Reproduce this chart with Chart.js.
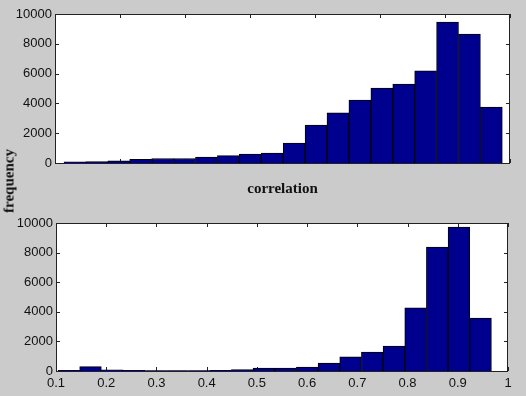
<!DOCTYPE html>
<html>
<head>
<meta charset="utf-8">
<script src="https://cdn.jsdelivr.net/npm/chart.js@4.4.1/dist/chart.umd.min.js"></script>
<style>
  html, body { margin: 0; padding: 0; background: #cbcbcb; }
  #wrap { position: relative; width: 526px; height: 396px; overflow: hidden; }
  #topChart { position: absolute; left: 0; top: 0; }
  #bottomChart { position: absolute; left: 0; top: 200px; }
  #ylabel {
    position: absolute; left: 9px; top: 181px;
    transform: translate(-50%, -50%) rotate(-90deg);
    font: bold 15px 'Liberation Serif', serif; color: #111; white-space: nowrap;
  }
</style>
</head>
<body>
<div id="wrap">
  <canvas id="topChart" width="526" height="200"></canvas>
  <canvas id="bottomChart" width="526" height="196"></canvas>
  <div id="ylabel">frequency</div>
</div>
<script>
// bin centres and counts
const topBins = [0.3307, 0.3644, 0.3981, 0.4318, 0.4656, 0.4993, 0.5330, 0.5667, 0.6004, 0.6342,
                 0.6679, 0.7016, 0.7353, 0.7690, 0.8028, 0.8365, 0.8702, 0.9039, 0.9376, 0.9713];
const topCounts = [80, 100, 150, 250, 300, 300, 400, 500, 600, 670,
                   1340, 2550, 3360, 4230, 5030, 5300, 6180, 9460, 8650, 3750];

const bottomBins = [0.1256, 0.1687, 0.2119, 0.2550, 0.2982, 0.3413, 0.3845, 0.4276, 0.4708, 0.5139,
                    0.5571, 0.6002, 0.6434, 0.6865, 0.7297, 0.7728, 0.8160, 0.8591, 0.9023, 0.9454];
const bottomCounts = [50, 300, 80, 50, 30, 30, 30, 50, 100, 200,
                      200, 270, 540, 950, 1280, 1690, 4260, 8380, 9730, 3580];

const yTicks = [0, 2000, 4000, 6000, 8000, 10000];
const topXTicks = [0.3, 0.4, 0.5, 0.6, 0.7, 0.8, 0.9, 1.0];
const bottomXTicks = [0.1, 0.2, 0.3, 0.4, 0.5, 0.6, 0.7, 0.8, 0.9, 1];
const bottomXLabels = ['0.1', '0.2', '0.3', '0.4', '0.5', '0.6', '0.7', '0.8', '0.9', '1'];

const barColor = '#00008f';
const tickFont = { family: "'Liberation Sans', Arial, sans-serif", size: 13 };

// white plot area, matlab style box with inward ticks
const boxPlugin = {
    id: 'box',
    beforeDraw(chart) {
        const { ctx, chartArea: a } = chart;
        ctx.save();
        ctx.fillStyle = '#fff';
        ctx.fillRect(a.left, a.top, a.right - a.left, a.bottom - a.top);
        ctx.restore();
    },
    beforeDatasetsDraw(chart) {
        const { ctx, chartArea: a, scales: { x, y } } = chart;
        ctx.save();
        ctx.strokeStyle = '#222';
        ctx.lineWidth = 1;
        ctx.beginPath();
        x.ticks.forEach((t, i) => {
            const px = Math.round(x.getPixelForTick(i)) + 0.5;
            ctx.moveTo(px, a.bottom); ctx.lineTo(px, a.bottom - 4);
            ctx.moveTo(px, a.top); ctx.lineTo(px, a.top + 4);
        });
        y.ticks.forEach((t, i) => {
            const py = Math.round(y.getPixelForTick(i)) + 0.5;
            ctx.moveTo(a.left, py); ctx.lineTo(a.left + 4, py);
            ctx.moveTo(a.right, py); ctx.lineTo(a.right - 4, py);
        });
        ctx.stroke();
        ctx.restore();
    },
    afterDatasetsDraw(chart) {
        const { ctx, chartArea: a } = chart;
        ctx.save();
        ctx.strokeStyle = '#222';
        ctx.lineWidth = 1;
        ctx.strokeRect(Math.round(a.left) + 0.5, Math.round(a.top) + 0.5,
                       Math.round(a.right - a.left) - 1, Math.round(a.bottom - a.top));
        ctx.restore();
    }
};

function makeHist(canvasId, bins, counts, xTicks, xMin, xMax, opts) {
    const ctx = document.getElementById(canvasId).getContext('2d');
    return new Chart(ctx, {
        type: 'bar',
        data: {
            datasets: [{
                data: bins.map((b, i) => ({ x: b, y: counts[i] })),
                backgroundColor: barColor,
                borderColor: '#000',
                borderWidth: 1,
                barPercentage: 1,
                categoryPercentage: 1
            }]
        },
        options: {
            responsive: false,
            animation: false,
            layout: { padding: opts.padding },
            plugins: { legend: { display: false }, tooltip: { enabled: false } },
            scales: {
                x: {
                    type: 'linear',
                    min: xMin,
                    max: xMax,
                    offset: false,
                    grid: { display: false, drawTicks: false },
                    border: { display: false },
                    afterBuildTicks: s => { s.ticks = xTicks.map(v => ({ value: v })); },
                    afterFit: s => { s.height = opts.xHeight; },
                    ticks: {
                        display: opts.showXLabels,
                        padding: 5,
                        maxRotation: 0,
                        color: '#111',
                        font: tickFont,
                        callback: (v, i) => bottomXLabels[i]
                    },
                    title: opts.xTitle ? {
                        display: true,
                        text: opts.xTitle,
                        color: '#111',
                        font: { family: "'Liberation Serif', serif", size: 15, weight: 'bold' },
                        padding: { top: 0, bottom: 2 }
                    } : { display: false }
                },
                y: {
                    min: 0,
                    max: 10000,
                    grid: { display: false, drawTicks: false },
                    border: { display: false },
                    afterBuildTicks: s => { s.ticks = yTicks.map(v => ({ value: v })); },
                    afterFit: s => { s.width = opts.yWidth; },
                    ticks: {
                        padding: 3,
                        color: '#111',
                        font: tickFont,
                        callback: v => String(v)
                    }
                }
            }
        },
        plugins: [boxPlugin]
    });
}

makeHist('topChart', topBins, topCounts, topXTicks, 0.3, 1.0, {
    padding: { left: 0, right: 16, top: 14, bottom: 0 },
    xHeight: 37, yWidth: 55, showXLabels: false, xTitle: 'correlation'
});

makeHist('bottomChart', bottomBins, bottomCounts, bottomXTicks, 0.1, 1, {
    padding: { left: 0, right: 18, top: 23, bottom: 0 },
    xHeight: 25, yWidth: 56, showXLabels: true, xTitle: null
});
</script>
</body>
</html>
